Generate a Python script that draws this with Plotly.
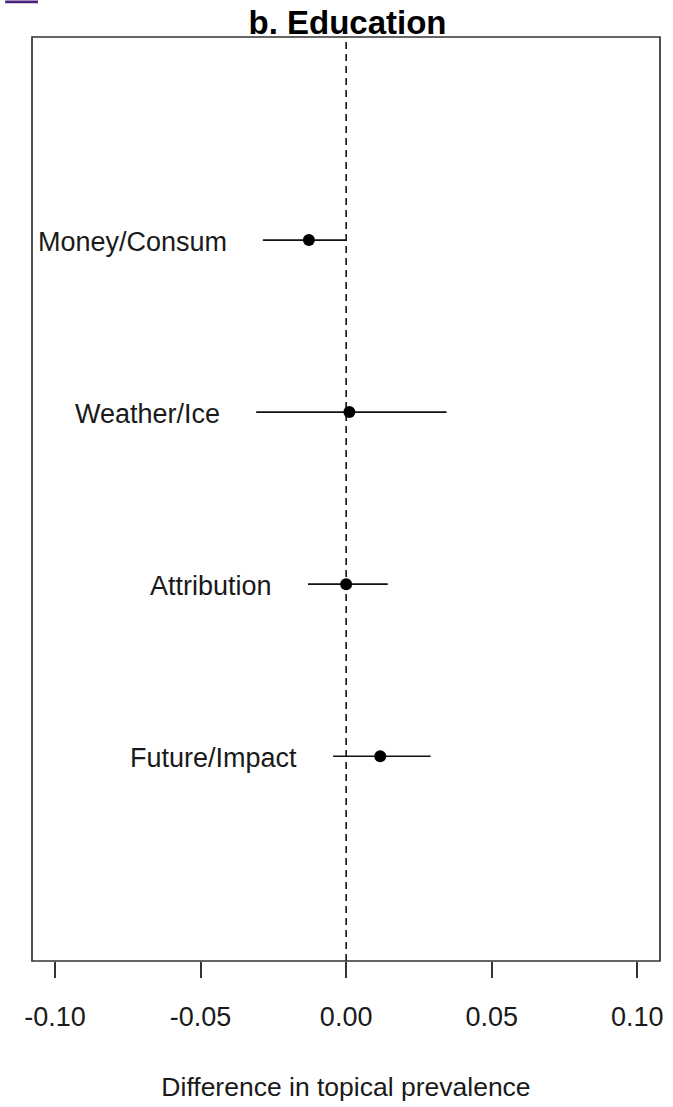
import plotly.graph_objects as go

# Data
categories = ["Money/Consum", "Weather/Ice", "Attribution", "Future/Impact"]
positions = [4, 3, 2, 1]
estimates = [-0.0128, 0.0011, 0.0000, 0.0117]
ci_lower = [-0.0286, -0.0309, -0.0131, -0.0045]
ci_upper = [0.0002, 0.0345, 0.0143, 0.0290]
tick_vals = [-0.10, -0.05, 0.00, 0.05, 0.10]
tick_text = ["-0.10", "-0.05", "0.00", "0.05", "0.10"]

FONT = "Liberation Sans, Arial, sans-serif"
INK = "#1a1a1a"

W, H = 673, 1107
ML, MR, MT, MB = 32, 10, 37, 136

fig = go.Figure()

fig.add_trace(go.Scatter(
    x=estimates,
    y=positions,
    mode="markers",
    marker=dict(color="black", size=12, symbol="circle"),
    error_x=dict(
        type="data",
        symmetric=False,
        array=[u - e for u, e in zip(ci_upper, estimates)],
        arrayminus=[e - l for e, l in zip(estimates, ci_lower)],
        width=0,
        thickness=1.7,
        color="#111111",
    ),
    showlegend=False,
    hoverinfo="skip",
))

annotations = []
for cat, lo, pos in zip(categories, ci_lower, positions):
    annotations.append(dict(
        x=lo, y=pos, xref="x", yref="y",
        text=cat, showarrow=False,
        xanchor="right", yanchor="middle",
        xshift=-34, yshift=-2,
        font=dict(family=FONT, size=27, color=INK),
    ))

shapes = [
    dict(type="line", xref="x", yref="paper", x0=0, x1=0, y0=0, y1=1,
         line=dict(color="black", width=1.5, dash="7px,5px"), layer="below"),
    dict(type="rect", xref="paper", yref="paper", x0=0, x1=1, y0=0, y1=1,
         line=dict(color="#333333", width=1.7), fillcolor="rgba(0,0,0,0)"),
]

fig.update_layout(
    width=W, height=H,
    margin=dict(l=ML, r=MR, t=MT, b=MB, pad=0),
    paper_bgcolor="white", plot_bgcolor="white",
    title=dict(
        text="<b>b. Education</b>",
        x=(ML + (W - ML - MR) / 2) / W, xanchor="center",
        y=1 - 22 / H, yanchor="middle", yref="container",
        font=dict(family=FONT, size=33, color="black"),
    ),
    annotations=annotations,
    shapes=shapes,
    xaxis=dict(
        range=[-0.1079, 0.1078],
        tickvals=tick_vals, ticktext=tick_text,
        ticks="outside", ticklen=16, tickwidth=1.6, tickcolor="#333333",
        showgrid=False, zeroline=False, showline=False,
        tickfont=dict(family=FONT, size=27, color=INK),
        ticklabelstandoff=16,
        title=dict(text="Difference in topical prevalence",
                   font=dict(family=FONT, size=26.5, color=INK),
                   standoff=46),
    ),
    yaxis=dict(
        range=[-0.19, 5.18],
        showticklabels=False, ticks="", showgrid=False, zeroline=False,
        showline=False,
    ),
)

# small purple UI fragment at the top-left corner of the reference image
fig.add_shape(type="rect", xref="paper", yref="paper",
              x0=-(ML - 5) / (W - ML - MR), x1=-(ML - 38) / (W - ML - MR),
              y0=1 + (MT - 3) / (H - MT - MB), y1=1 + MT / (H - MT - MB),
              line=dict(width=0), fillcolor="#4a2380")

fig.write_html("out.html", config={"displayModeBar": False})

# remove the browser's default page margin so the figure fills the window
with open("out.html", "r", encoding="utf-8") as f:
    html = f.read()
html = html.replace(
    "<head>",
    "<head><style>html,body{margin:0;padding:0;overflow:hidden;}</style>",
    1,
)
with open("out.html", "w", encoding="utf-8") as f:
    f.write(html)
